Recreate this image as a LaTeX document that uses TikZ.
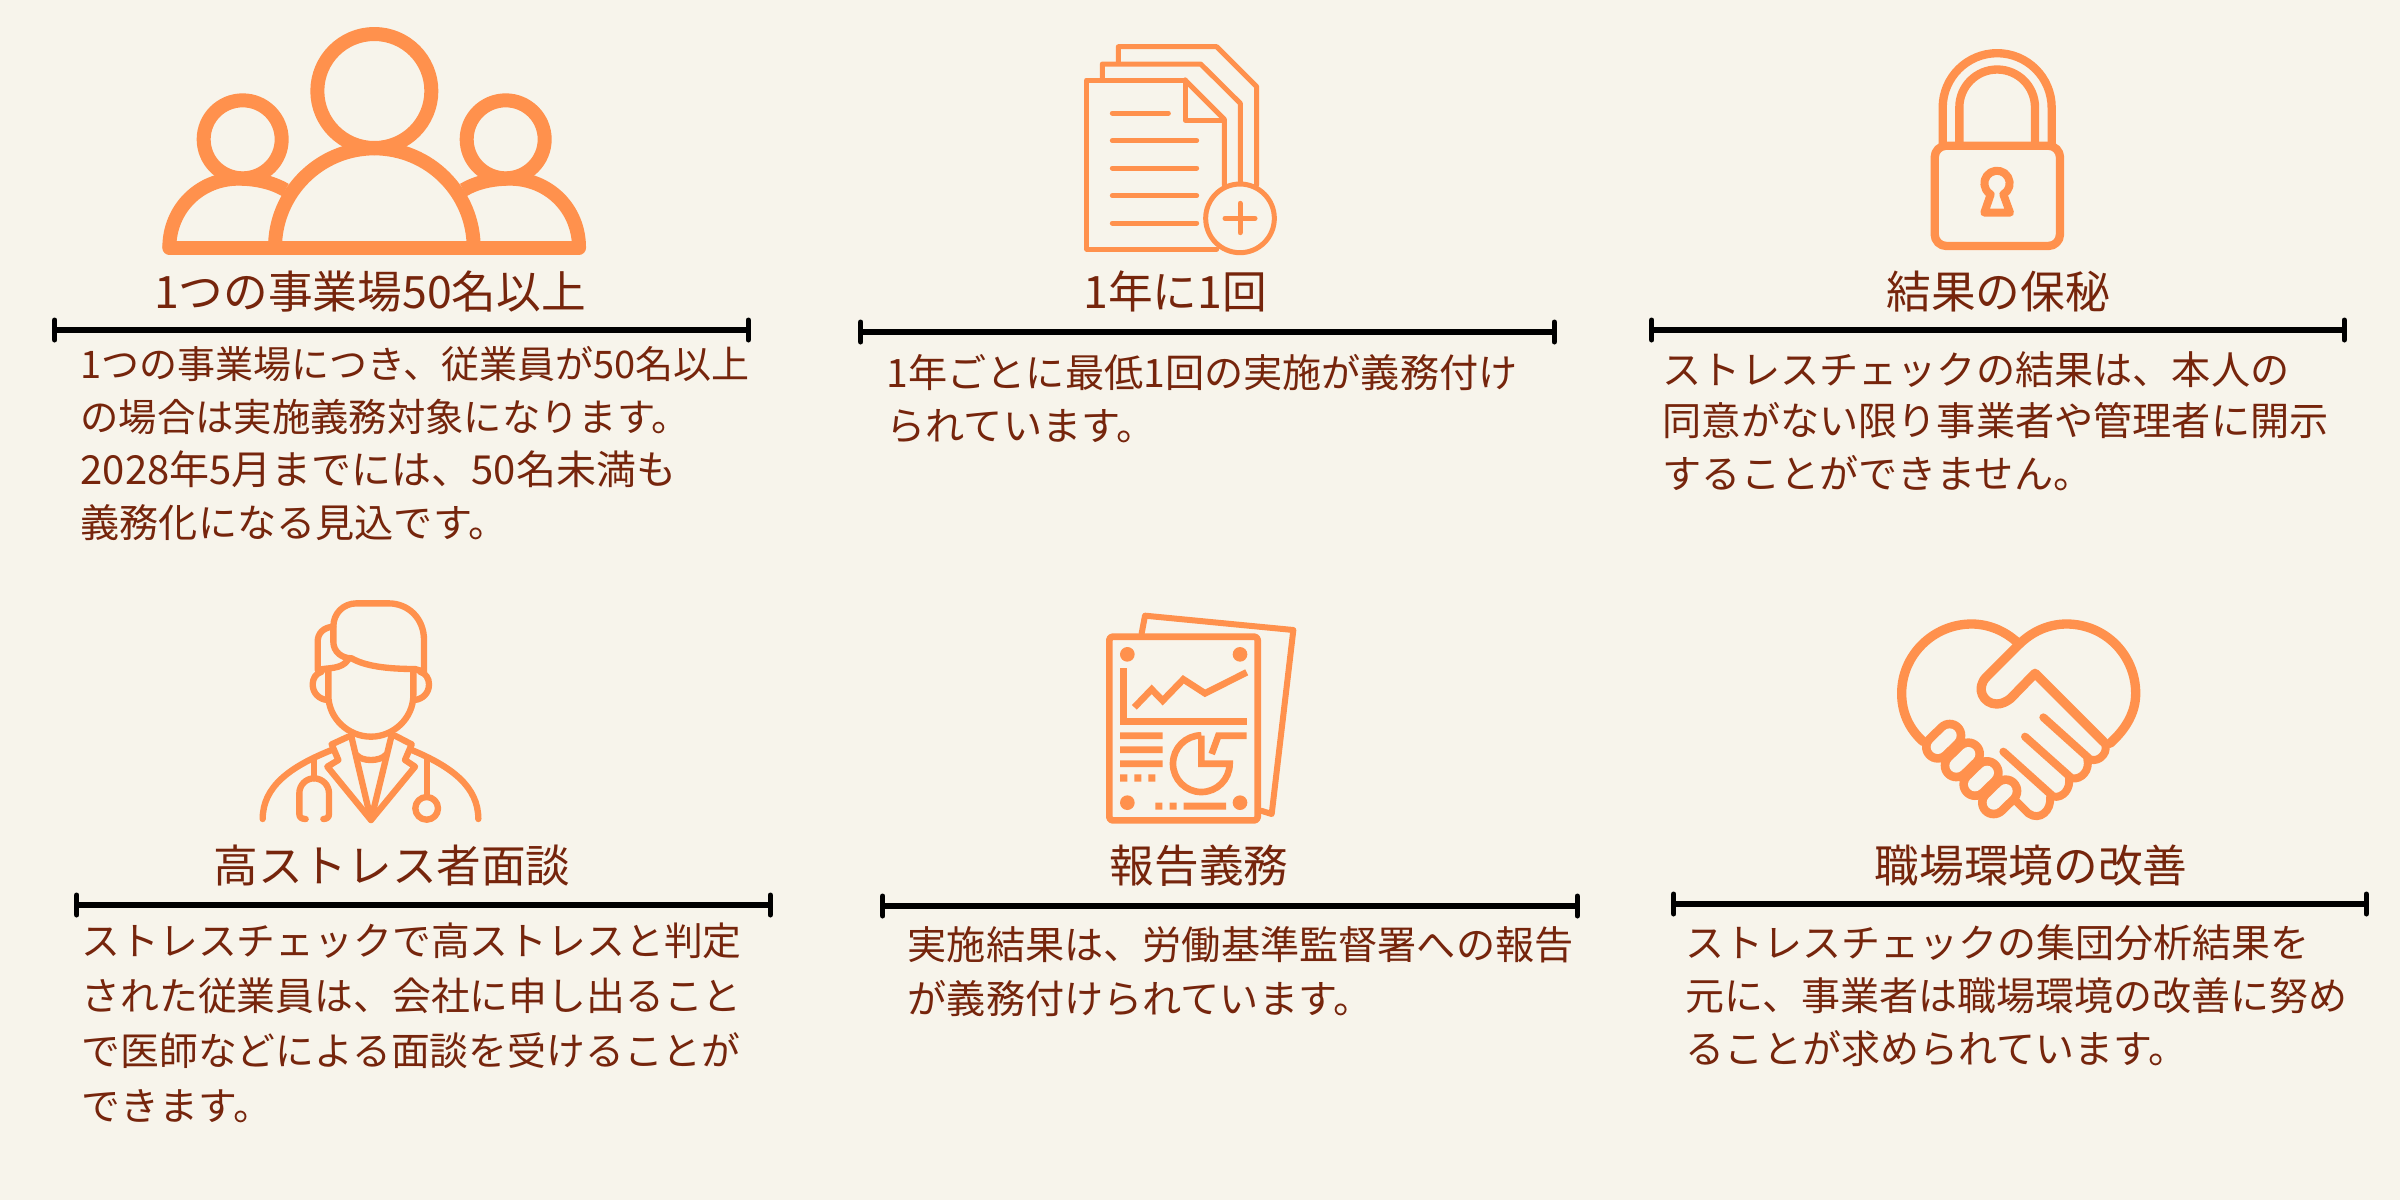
\documentclass[tikz,border=0pt]{standalone}
\usepackage{fontspec}
\usetikzlibrary{arrows.meta}
\setmainfont{Noto Sans CJK JP}
\definecolor{pagebg}{HTML}{F7F4EB}
\definecolor{iconorange}{HTML}{FF914D}
\definecolor{textbrown}{HTML}{76250C}
\tikzset{
  headtext/.style={anchor=base,inner sep=0pt,text=textbrown,font=\fontsize{13.4}{15}\selectfont},
  bodytext/.style={anchor=base west,inner sep=0pt,text=textbrown,font=\fontsize{11.75}{14}\selectfont},
  bodysized/.style={bodytext,font=\fontsize{#1}{14}\selectfont},
  barline/.style={line width=1.6pt,black,{Bar[width=5.9pt,length=1.3pt,round]}-{Bar[width=5.9pt,length=1.3pt,round]}},
  ic/.style={draw=iconorange,line width=#1*0.1pt,line cap=round,line join=round},
  icb/.style={draw=iconorange,line width=#1*0.1pt,line cap=butt,line join=miter},
  zoomunits/.style={shift={#1},x=0.1pt,y=-0.1pt},
}
\begin{document}
\begin{tikzpicture}[x=0.3pt,y=-0.3pt]
\useasboundingbox (0,0) rectangle (2400,1200);
\fill[pagebg] (0,0) rectangle (2400,1200);

% Icon: people
\begin{scope}[zoomunits={(140,10)}]
\draw[ic=42] (703,243) circle[radius=171];
\draw[ic=42] (308,388) circle[radius=117];
\draw[ic=42] (1097,388) circle[radius=117];
\draw[ic=42] (88,713) -- (1317,713);
\draw[ic=42,line cap=butt] (405,713) arc[start angle=180,end angle=360,radius=298];
\draw[ic=42,line cap=butt] (88,713) .. controls (88,595) and (180,506) .. (295,506) .. controls (345,506) and (395,516) .. (436,540);
\draw[ic=42,line cap=butt] (1317,713) .. controls (1317,595) and (1225,506) .. (1110,506) .. controls (1060,506) and (1010,516) .. (970,540);
\end{scope}

% Icon: documents
\begin{scope}[zoomunits={(1060,30)}]
\draw[ic=15] (375,150) -- (80,150) -- (80,657) -- (470,657);
\draw[ic=15] (375,150) -- (493,268) -- (493,465);
\draw[ic=15] (375,150) -- (375,270) -- (493,270);
\draw[ic=15] (127,148) -- (127,102) -- (422,102) -- (541,220) -- (541,455);
\draw[ic=15] (175,96) -- (175,50) -- (470,50) -- (590,170) -- (590,465);
\foreach \yy/\xe in {249/325,332/410,414/410,497/410,579/410}
  \draw[ic=15] (157,\yy) -- (\xe,\yy);
\draw[ic=15] (540,565) circle[radius=103];
\draw[ic=15] (495,565) -- (585,565);
\draw[ic=15] (540,520) -- (540,608);
\end{scope}

% Icon: padlock
\begin{scope}[zoomunits={(1900,30)}]
\draw[ic=25,rounded corners=3.5pt] (104,347) rectangle (480,648);
\draw[ic=25] (128,347) -- (128,233) arc[start angle=180,end angle=360,radius=163.5] -- (455,347);
\draw[ic=25] (178,347) -- (178,232) arc[start angle=180,end angle=360,radius=113.5] -- (405,347);
\draw[ic=24] (272,493) -- (253,548) -- (330,548) -- (310,493) arc[start angle=60,end angle=-240,radius=38];
\end{scope}

% Icon: doctor
\begin{scope}[zoomunits={(240,590)}]
\draw[ic=19] (552,245) -- (552,150) .. controls (552,85) and (505,40) .. (445,40) -- (350,40) .. controls (310,40) and (280,70) .. (280,110) -- (280,155) .. controls (280,185) and (305,205) .. (335,205) .. controls (375,228) and (440,237) .. (525,237) -- (552,245);
\draw[ic=19] (280,110) .. controls (250,112) and (233,130) .. (233,155) -- (233,240) .. controls (262,232) and (305,240) .. (325,208);
\draw[ic=19] (245,245) .. controls (228,250) and (218,265) .. (218,283) .. controls (218,310) and (238,328) .. (262,330);
\draw[ic=19] (540,245) .. controls (557,250) and (567,265) .. (567,283) .. controls (567,310) and (547,328) .. (523,330);
\draw[ic=19] (265,240) -- (265,315) .. controls (265,385) and (325,440) .. (393,440) .. controls (460,440) and (520,385) .. (520,315) -- (520,240);
\draw[ic=19] (333,435) -- (393,690) -- (455,435);
\draw[ic=19] (350,495) .. controls (365,515) and (420,515) .. (437,495);
\draw[ic=19] (325,440) -- (275,463) -- (295,510) -- (262,530) -- (393,690) -- (525,530) -- (495,510) -- (515,463) -- (465,437);
\draw[ic=19] (68,687) .. controls (68,590) and (150,530) .. (275,480);
\draw[ic=19] (715,687) .. controls (715,590) and (635,530) .. (515,480);
\draw[ic=19] (222,510) -- (222,565);
\draw[ic=19] (197,687) .. controls (185,687) and (178,682) .. (178,672) -- (178,610) .. controls (178,585) and (198,565) .. (222,565) .. controls (247,565) and (267,585) .. (267,610) -- (267,672) .. controls (267,682) and (260,687) .. (250,687);
\draw[ic=19] (560,505) -- (560,620);
\draw[ic=19] (560,655) circle[radius=34];
\end{scope}

% Icon: report
\begin{scope}[zoomunits={(1090,600)}]
\draw[ic=20,rounded corners=1pt] (58,110) rectangle (503,661);
\draw[ic=18] (155,100) -- (165,47) -- (610,90) -- (545,642) -- (513,632);
\fill[iconorange] (112,163) circle[radius=22] (450,163) circle[radius=22] (112,608) circle[radius=22] (450,608) circle[radius=22];
\draw[icb=20] (100,205) -- (100,365) -- (470,365);
\draw[icb=20] (133,322) -- (185,268) -- (218,302) -- (280,238) -- (345,280) -- (470,217);
\fill[iconorange] (90,397) rectangle (218,417) (90,439) rectangle (218,459) (90,481) rectangle (218,501);
\fill[iconorange] (90,523) rectangle (112,545) (133,523) rectangle (154,545) (175,523) rectangle (196,545);
\fill[iconorange] (196,608) rectangle (217,629) (239,608) rectangle (260,629) (281,608) rectangle (408,629);
\draw[icb=20] (334,407) -- (334,491) -- (419,491) arc[start angle=0,end angle=270,radius=85];
\draw[icb=20] (470,407) -- (385,407) -- (365,462);
\end{scope}

% Icon: handshake heart
\begin{scope}[zoomunits={(1880,600)}]
\draw[ic=28] (130,425) .. controls (85,385) and (65,335) .. (65,280) .. controls (65,165) and (160,72) .. (275,72) .. controls (325,72) and (375,92) .. (415,130);
\draw[ic=28] (690,430) .. controls (740,385) and (767,335) .. (767,280) .. controls (767,165) and (675,72) .. (560,72) .. controls (505,72) and (455,95) .. (415,135) -- (320,230) .. controls (285,265) and (310,312) .. (350,312) .. controls (365,312) and (380,305) .. (392,295) -- (465,220) -- (670,425);
\draw[ic=24] (670,425) .. controls (692,450) and (660,490) .. (630,478) -- (490,352);
\draw[ic=24] (622,478) .. controls (630,510) and (605,540) .. (575,535) -- (435,410);
\draw[ic=24] (567,535) .. controls (572,565) and (550,595) .. (520,590) -- (370,455);
\draw[ic=24] (510,592) .. controls (515,630) and (480,665) .. (445,640) -- (410,605);
\draw[iconorange,line width=9.4pt,line cap=round] (173,441) -- (209,406) (229,497) -- (265,462) (285,553) -- (321,518) (341,608) -- (377,573);
\draw[pagebg,line width=4.2pt,line cap=round] (173,441) -- (209,406) (229,497) -- (265,462) (285,553) -- (321,518) (341,608) -- (377,573);
\end{scope}

% Headings
\node[headtext] (h1) at (370,308) {1つの事業場50名以上};
\node[headtext] (h2) at (1175,308) {1年に1回};
\node[headtext] (h3) at (1998,308) {結果の保秘};
\node[headtext] (h4) at (392,882) {高ストレス者面談};
\node[headtext] (h5) at (1199,882) {報告義務};
\node[headtext] (h6) at (2031,882) {職場環境の改善};

% Rules
\coordinate (r1a) at (52,330);   \coordinate (r1b) at (751,330);
\coordinate (r2a) at (858,332);  \coordinate (r2b) at (1557,332);
\coordinate (r3a) at (1649,330); \coordinate (r3b) at (2347,330);
\coordinate (r4a) at (74,905);   \coordinate (r4b) at (773,905);
\coordinate (r5a) at (880,906);  \coordinate (r5b) at (1580,906);
\coordinate (r6a) at (1671,904); \coordinate (r6b) at (2369,904);
\draw[barline] (r1a) -- (r1b);
\draw[barline] (r2a) -- (r2b);
\draw[barline] (r3a) -- (r3b);
\draw[barline] (r4a) -- (r4b);
\draw[barline] (r5a) -- (r5b);
\draw[barline] (r6a) -- (r6b);

% Body text
\node[bodysized=11.4] (b1a) at (80,378) {1つの事業場につき、従業員が50名以上};
\node[bodysized=11.5] (b1b) at (80,431.5) {の場合は実施義務対象になります。};
\node[bodysized=12] (b1c) at (80,484) {2028年5月までには、50名未満も};
\node[bodytext] (b1d) at (80,537.5) {義務化になる見込です。};
\node[bodytext] (b2a) at (886,387) {1年ごとに最低1回の実施が義務付け};
\node[bodytext] (b2b) at (886,440) {られています。};
\node[bodytext] (b3a) at (1662,384) {ストレスチェックの結果は、本人の};
\node[bodytext] (b3b) at (1662,435) {同意がない限り事業者や管理者に開示};
\node[bodytext] (b3c) at (1662,488) {することができません。};
\node[bodysized=11.65] (b4a) at (81,955) {ストレスチェックで高ストレスと判定};
\node[bodysized=11.65] (b4b) at (81,1010) {された従業員は、会社に申し出ること};
\node[bodysized=11.65] (b4c) at (81,1065) {で医師などによる面談を受けることが};
\node[bodysized=11.65] (b4d) at (81,1120) {できます。};
\node[bodytext] (b5a) at (907,959) {実施結果は、労働基準監督署への報告};
\node[bodytext] (b5b) at (907,1013) {が義務付けられています。};
\node[bodysized=11.7] (b6a) at (1685,957) {ストレスチェックの集団分析結果を};
\node[bodysized=11.7] (b6b) at (1685,1010) {元に、事業者は職場環境の改善に努め};
\node[bodysized=11.7] (b6c) at (1685,1063) {ることが求められています。};
\end{tikzpicture}
\end{document}
